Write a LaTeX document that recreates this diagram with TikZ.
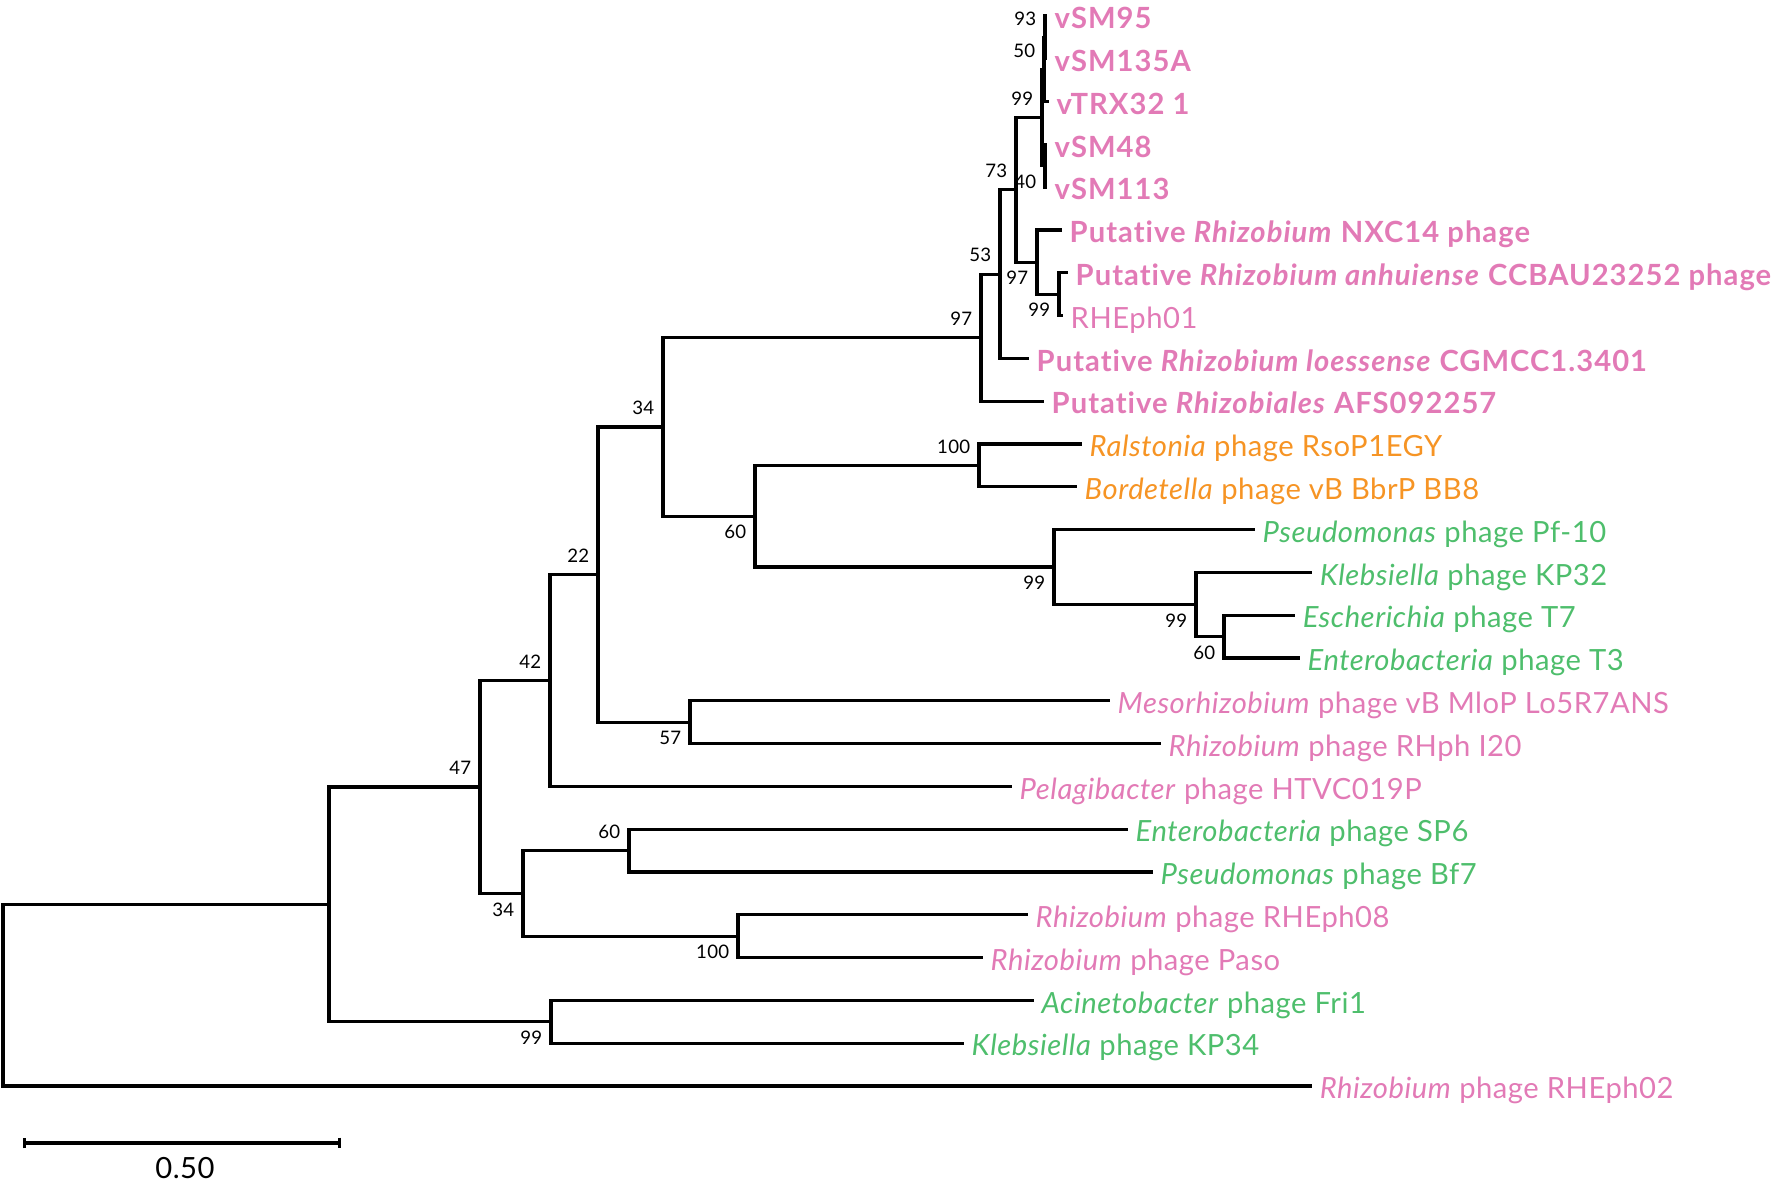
\documentclass[tikz,border=0pt]{standalone}
\usepackage{fontspec}
\setmainfont{Lato}[Ligatures=NoCommon, LetterSpace=1.8, BoldFeatures={LetterSpace=3.5}, BoldItalicFeatures={LetterSpace=3.5}]
\usetikzlibrary{arrows.meta}

\definecolor{phpink}{RGB}{226,122,182}
\definecolor{phorange}{RGB}{246,148,36}
\definecolor{phgreen}{RGB}{78,190,108}

\begin{document}
\begin{tikzpicture}[x=0.01cm, y=-0.01cm,
    branch/.style={line width=0.9pt},
    leaf/.style={anchor=west, inner xsep=2pt, inner ysep=0pt, text height=0.72em, text depth=0pt,
      font=\fontsize{8.3}{9}\selectfont},
    leafbold/.style={leaf, text=phpink, font=\fontsize{8.3}{9}\selectfont\bfseries},
    boot/.style={anchor=east, inner sep=0pt, xshift=-0.08cm, font=\fontsize{5.3}{6}\selectfont},
    bootup/.style={boot, yshift=0.19cm},
    bootdown/.style={boot, yshift=-0.16cm}]
  \useasboundingbox (0,0) rectangle (1772,1182);

  % inner nodes of the tree (x = distance, y = row)
  \coordinate (root) at (3,995);
  \coordinate (nQ) at (329,904.4);
  \coordinate (nP) at (480,787);
  \coordinate (nN) at (550,680.5);
  \coordinate (nK) at (598,574.6);
  \coordinate (nG) at (663,427);
  \coordinate (nE) at (981,337.7);
  \coordinate (nD) at (1000,274.1);
  \coordinate (nB) at (1016,189.9);
  \coordinate (nA) at (1042,117.65);
  \coordinate (nA2) at (1044,69.5);
  \coordinate (nA1) at (1045,37.4);
  \coordinate (nA4) at (1045,165.8);
  \coordinate (nC) at (1037,262.1);
  \coordinate (nF) at (1059,294.2);
  \coordinate (nH) at (755,516.2);
  \coordinate (nI) at (979,465.4);
  \coordinate (nJ) at (1054,567);
  \coordinate (nL) at (1196,604.5);
  \coordinate (nM) at (1224,636.6);
  \coordinate (nO) at (690,722.2);
  \coordinate (nR) at (523,893.4);
  \coordinate (nU) at (629,850.6);
  \coordinate (nS) at (738,936.2);
  \coordinate (nT) at (551,1021.8);

  % leaves
  \node[leafbold] (vSM95) at (1047,16) {vSM95};
  \node[leafbold] (vSM135A) at (1047,58.8) {vSM135A};
  \node[leafbold] (vTRX32) at (1049,101.6) {vTRX32 1};
  \node[leafbold] (vSM48) at (1047,144.4) {vSM48};
  \node[leafbold] (vSM113) at (1047,187.2) {vSM113};
  \node[leafbold] (NXC14) at (1062,230) {Putative \textit{Rhizobium} NXC14 phage};
  \node[leafbold] (anhuiense) at (1068,272.8) {Putative \textit{Rhizobium anhuiense} CCBAU23252 phage};
  \node[leaf, text=phpink] (RHEph01) at (1063,315.6) {RHEph01};
  \node[leafbold] (loessense) at (1029,358.4) {Putative \textit{Rhizobium loessense} CGMCC1.3401};
  \node[leafbold] (AFS) at (1044,401.2) {Putative \textit{Rhizobiales} AFS092257};
  \node[leaf, text=phorange] (RsoP) at (1082,444) {\textit{Ralstonia} phage RsoP1EGY};
  \node[leaf, text=phorange] (BB8) at (1077,486.8) {\textit{Bordetella} phage vB BbrP BB8};
  \node[leaf, text=phgreen] (Pf10) at (1255,529.6) {\textit{Pseudomonas} phage Pf-10};
  \node[leaf, text=phgreen] (KP32) at (1312,572.4) {\textit{Klebsiella} phage KP32};
  \node[leaf, text=phgreen] (T7) at (1295,615.2) {\textit{Escherichia} phage T7};
  \node[leaf, text=phgreen] (T3) at (1300,658) {\textit{Enterobacteria} phage T3};
  \node[leaf, text=phpink] (Lo5) at (1110,700.8) {\textit{Mesorhizobium} phage vB MloP Lo5R7ANS};
  \node[leaf, text=phpink] (I20) at (1161,743.6) {\textit{Rhizobium} phage RHph I20};
  \node[leaf, text=phpink] (HTVC) at (1012,786.4) {\textit{Pelagibacter} phage HTVC019P};
  \node[leaf, text=phgreen] (SP6) at (1128,829.2) {\textit{Enterobacteria} phage SP6};
  \node[leaf, text=phgreen] (Bf7) at (1153,872) {\textit{Pseudomonas} phage Bf7};
  \node[leaf, text=phpink] (RHEph08) at (1028,914.8) {\textit{Rhizobium} phage RHEph08};
  \node[leaf, text=phpink] (Paso) at (983,957.6) {\textit{Rhizobium} phage Paso};
  \node[leaf, text=phgreen] (Fri1) at (1034,1000.4) {\textit{Acinetobacter} phage Fri1};
  \node[leaf, text=phgreen] (KP34) at (964,1043.2) {\textit{Klebsiella} phage KP34};
  \node[leaf, text=phpink] (RHEph02) at (1312,1086) {\textit{Rhizobium} phage RHEph02};

  % branches
  \draw[branch] (root) |- (nQ) (root) |- (RHEph02.west);
  \draw[branch] (nQ) |- (nP) (nQ) |- (nT);
  \draw[branch] (nP) |- (nN) (nP) |- (nR);
  \draw[branch] (nN) |- (nK) (nN) |- (HTVC.west);
  \draw[branch] (nK) |- (nG) (nK) |- (nO);
  \draw[branch] (nG) |- (nE) (nG) |- (nH);
  \draw[branch] (nE) |- (nD) (nE) |- (AFS.west);
  \draw[branch] (nD) |- (nB) (nD) |- (loessense.west);
  \draw[branch] (nB) |- (nA) (nB) |- (nC);
  \draw[branch] (nA) |- (nA2) (nA) |- (nA4);
  \draw[branch] (nA2) |- (nA1) (nA2) |- (vTRX32.west);
  \draw[branch] (nA1) |- (vSM95.west) (nA1) |- (vSM135A.west);
  \draw[branch] (nA4) |- (vSM48.west) (nA4) |- (vSM113.west);
  \draw[branch] (nC) |- (NXC14.west) (nC) |- (nF);
  \draw[branch] (nF) |- (anhuiense.west) (nF) |- (RHEph01.west);
  \draw[branch] (nH) |- (nI) (nH) |- (nJ);
  \draw[branch] (nI) |- (RsoP.west) (nI) |- (BB8.west);
  \draw[branch] (nJ) |- (Pf10.west) (nJ) |- (nL);
  \draw[branch] (nL) |- (KP32.west) (nL) |- (nM);
  \draw[branch] (nM) |- (T7.west) (nM) |- (T3.west);
  \draw[branch] (nO) |- (Lo5.west) (nO) |- (I20.west);
  \draw[branch] (nR) |- (nU) (nR) |- (nS);
  \draw[branch] (nU) |- (SP6.west) (nU) |- (Bf7.west);
  \draw[branch] (nS) |- (RHEph08.west) (nS) |- (Paso.west);
  \draw[branch] (nT) |- (Fri1.west) (nT) |- (KP34.west);

  % bootstrap values
  \node[bootup] (bA1) at (nA1) {93};
  \node[bootup] (bA2) at (nA2) {50};
  \node[bootup] (bA) at (nA) {99};
  \node[bootdown] (bA4) at (nA4) {40};
  \node[bootup] (bB) at (nB) {73};
  \node[bootdown] (bC) at (nC) {97};
  \node[bootdown] (bF) at (nF) {99};
  \node[bootup] (bD) at (nD) {53};
  \node[bootup] (bE) at (nE) {97};
  \node[bootup] (bG) at (nG) {34};
  \node[bootup] (bI) at (nI) {100};
  \node[bootdown] (bH) at (nH) {60};
  \node[bootdown] (bJ) at (nJ) {99};
  \node[bootdown] (bL) at (nL) {99};
  \node[bootdown] (bM) at (nM) {60};
  \node[bootup] (bK) at (nK) {22};
  \node[bootdown] (bO) at (nO) {57};
  \node[bootup] (bN) at (nN) {42};
  \node[bootup] (bP) at (nP) {47};
  \node[bootup] (bU) at (nU) {60};
  \node[bootdown] (bR) at (nR) {34};
  \node[bootdown] (bS) at (nS) {100};
  \node[bootdown] (bT) at (nT) {99};

  % scale bar
  \coordinate (barL) at (23,1143);
  \coordinate (barR) at (341,1143);
  \draw[branch, {Bar[width=3pt]}-{Bar[width=3pt]}] (barL) -- (barR);
  \node[font=\fontsize{8.3}{9}\selectfont] (barlabel) at (185,1168) {0.50};
\end{tikzpicture}
\end{document}
